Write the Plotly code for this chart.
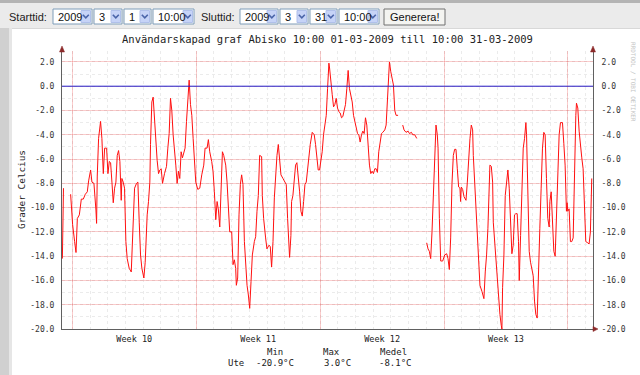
import pandas as pd
import plotly.graph_objects as go

# ---------------- data ----------------
start_time = "2009-03-01 10:00"
end_time = "2009-03-31 10:00"

# hours after start_time, outdoor temperature (°C); None = missing data
hours = [
    0.5, 2.0, 6.0, 11.7, 14.4, 17.1, 19.0, 20.8, 23.5, 26.2, 28.9, 31.6, 34.3, 36.1, 38.8, 40.6,
    43.3, 46.0, 46.9, 47.8, 49.6, 52.3, 54.1, 56.0, 57.8, 60.5, 62.3, 64.1, 65.9, 67.7, 69.5, 71.3,
    73.1, 74.9, 76.7, 78.5, 80.3, 81.2, 83.0, 84.8, 86.6, 88.4, 91.1, 93.9, 95.7, 96.6, 98.4, 101.1,
    102.9, 104.7, 106.5, 108.3, 111.0, 112.8, 115.5, 117.3, 119.1, 120.0, 121.8, 123.6, 125.4, 127.2,
    129.0, 130.9, 132.7, 134.5, 136.3, 139.0, 141.7, 143.5, 145.3, 147.1, 148.9, 150.7, 152.5, 154.3,
    156.1, 157.9, 159.7, 161.5, 163.3, 165.1, 166.9, 168.8, 170.6, 172.4, 174.2, 176.0, 177.8, 179.6,
    181.4, 184.1, 186.8, 189.5, 192.2, 194.0, 196.7, 198.5, 200.3, 203.0, 204.8, 206.6, 208.5, 210.3,
    212.1, 213.9, 215.7, 217.5, 219.3, 222.0, 223.8, 225.6, 227.4, 230.1, 231.9, 233.7, 235.5, 236.4,
    238.2, 240.0, 241.8, 243.6, 245.4, 247.3, 249.1, 250.9, 252.7, 254.5, 256.3, 258.1, 260.8, 262.6,
    264.4, 266.2, 268.0, 270.7, 271.6, 273.4, 276.1, 277.9, 280.6, 282.4, 284.2, 286.1, 287.9, 289.7,
    291.5, 293.3, 295.1, 296.9, 299.6, 302.3, 304.1, 305.9, 307.7, 308.6, 310.4, 311.3, 313.1, 314.9,
    316.7, 318.5, 320.4, 322.2, 324.0, 325.8, 327.6, 329.4, 331.2, 333.0, 334.8, 336.6, 339.3, 342.0,
    343.8, 345.6, 347.4, 349.2, 351.0, 352.8, 354.6, 356.4, 358.3, 360.1, 361.9, 362.8, 364.6, 366.4,
    368.2, 370.0, 371.8, 373.6, 375.4, 377.2, 379.0, 380.8, 382.6, 384.4, 386.2, 388.0, 389.8, 391.6,
    393.5, 395.3, 397.1, 398.9, 400.7, 402.5, 404.3, 406.1, 407.9, 409.7, 411.5, 413.3, 415.1, 416.9,
    418.7, 420.5, 422.3, 424.1, 425.9, 427.7, 429.5, 431.4, 433.2, 435.0, 437.7, 439.5, 441.3, 443.1,
    444.0, 445.8, 447.6, 449.4, 451.2, 453.0, 455.7, 458.5, 462.0, 463.8, 466.5, 469.2, 471.1, 473.8,
    475.6, 478.3, 481.0, 488.0, 494.5, 496.3, 498.1, 499.9, 501.7, 503.5, 505.3, 507.1, 508.9, 509.9,
    511.7, 513.5, 516.2, 518.9, 521.6, 523.4, 525.2, 527.0, 528.8, 530.6, 532.4, 534.2, 536.0, 537.8,
    539.6, 540.5, 541.4, 543.2, 545.1, 547.8, 549.6, 551.4, 553.2, 555.0, 556.8, 557.7, 559.5, 561.3,
    563.1, 564.9, 566.7, 569.4, 572.1, 573.9, 575.7, 577.5, 579.3, 580.2, 582.1, 583.9, 584.8, 586.6,
    588.4, 590.2, 592.0, 593.8, 595.6, 596.5, 597.4, 599.2, 601.0, 602.8, 604.6, 606.4, 608.2, 610.0,
    611.8, 613.6, 615.4, 617.2, 619.0, 620.0, 621.8, 623.6, 625.4, 627.2, 629.0, 629.9, 631.7, 633.5,
    635.3, 637.1, 638.9, 640.7, 642.5, 644.3, 646.1, 647.9, 649.7, 651.5, 653.3, 655.1, 656.9, 658.7,
    660.6, 661.5, 663.3, 665.1, 666.9, 668.7, 670.5, 672.3, 674.1, 675.9, 678.6, 680.4, 682.2, 684.0,
    684.9, 685.8, 687.6, 689.4, 691.2, 693.1, 694.9, 696.7, 697.6, 699.4, 701.2, 703.0, 704.8, 706.6,
    708.4, 710.2, 712.9, 714.7, 716.5, 718.3,
]
temps = [
    -14.2, -8.4, None, -8.9, -11.4, -12.8, -13.7, -10.9, -10.6, -9.3, -9.3, -8.9, -8.7, -7.8, -6.9, -7.9,
    -8.0, -10.2, -11.3, -7.4, -4.3, -2.9, -4.3, -7.2, -5.1, -5.1, -7.2, -6.2, -6.3, -7.9, -9.6, -8.4,
    -7.9, -5.7, -5.3, -6.2, -9.4, -7.6, -7.9, -8.4, -12.8, -14.2, -15.0, -15.3, -12.8, -10.3, -8.4, -8.0,
    -7.9, -11.2, -13.9, -15.0, -15.8, -14.5, -10.6, -9.5, -7.9, -4.8, -1.3, -0.9, -2.9, -4.6,
    -6.1, -7.2, -6.9, -6.8, -8.0, -7.2, -6.6, -5.1, -3.9, -1.0, -2.0, -4.0, -5.1, -6.5,
    -8.0, -7.0, -7.6, -5.4, -5.9, -5.4, -5.1, -2.9, -0.7, 0.5, -1.5, -2.4, -4.3, -6.2,
    -7.9, -8.5, -8.4, -7.3, -6.5, -5.1, -5.1, -4.4, -5.4, -6.2, -7.0, -8.7, -11.0, -9.5,
    -10.2, -11.6, -7.3, -5.4, -5.7, -6.5, -7.9, -9.5, -12.0, -12.0, -14.7, -14.3, -15.0, -16.4,
    -15.8, -10.6, -8.1, -7.3, -8.1, -12.8, -15.0, -16.4, -17.2, -18.3, -16.1, -13.9, -12.8, -12.4,
    -10.3, -9.0, -5.7, -5.8, -9.0, -10.9, -12.5, -13.4, -13.1, -13.2, -14.9, -12.8, -9.2, -7.0,
    -5.7, -4.8, -6.5, -7.3, -7.6, -7.9, -8.1, -10.9, -12.8, -14.1, -12.3, -9.5, -9.0, -7.3,
    -6.5, -6.3, -7.3, -8.7, -10.3, -10.7, -9.5, -8.1, -7.9, -6.8, -5.7, -4.8, -3.8, -4.0,
    -4.8, -5.9, -6.9, -6.9, -6.2, -5.4, -4.0, -3.2, -2.4, -0.2, 1.9, 1.5, 0.1, -0.7,
    -1.7, -1.5, -1.0, -1.8, -2.1, -2.2, -2.6, -2.5, -2.0, -1.5, -0.2, 1.3, -0.2, -0.7,
    -1.3, -2.4, -2.9, -3.5, -3.9, -4.0, -4.6, -4.0, -3.7, -3.9, -2.6, -3.2, -5.1, -6.5,
    -7.2, -7.0, -7.2, -6.8, -6.8, -7.1, -5.4, -4.7, -3.9, -3.8, -3.6, -3.2, -1.5, 0.4,
    2.0, 1.2, 0.7, 0.1, -2.0, -2.4, -2.4, None, -3.2, -3.6, -3.8, -3.7, -3.9, -3.8,
    -4.0, -4.0, -4.3, None, -12.9, -13.4, -13.6, -14.2, -12.0, -9.0, -5.7, -3.2, -4.0, -5.1,
    -10.9, -14.4, -14.4, -13.9, -13.8, -14.2, -15.1, -12.5, -8.0, -5.7, -5.2, -5.2, -6.8, -8.3,
    -8.4, -9.5, -8.3, -8.5, -9.1, -9.4, -7.9, -5.9, -4.3, -3.2, -3.6, -5.7, -7.9, -10.1,
    -12.8, -15.3, -16.4, -16.9, -17.5, -15.3, -13.9, -11.7, -9.0, -6.5, -6.6, -7.9, -11.2, -12.8,
    -14.5, -16.4, -18.0, -18.8, -19.7, -20.0, -16.6, -13.9, -9.0, -7.9, -6.9, -8.4, -11.7, -13.8,
    -13.1, -10.6, -10.5, -10.5, -12.8, -16.0, -12.3, -8.4, -5.1, -4.3, -3.0, -4.0, -10.1, -13.6,
    -14.5, -15.0, -15.6, -17.7, -18.8, -19.1, -16.1, -11.7, -8.4, -5.1, -3.8, -4.0, -7.6, -10.9,
    -11.6, -9.5, -8.7, -11.7, -13.6, -14.0, -10.6, -5.7, -4.0, -3.0, -3.0, -4.7, -6.5, -10.3,
    -9.6, -10.3, -10.1, -12.8, -12.8, -12.5, -6.5, -2.4, -1.4, -1.8, -3.7, -5.1, -5.9, -6.8,
    -10.1, -12.8, -12.9, -13.0, -12.0, -7.6,
]

week_starts = ["2009-03-02", "2009-03-09", "2009-03-16", "2009-03-23", "2009-03-30"]
week_mids = ["2009-03-05 12:00", "2009-03-12 12:00", "2009-03-19 12:00", "2009-03-26 12:00"]
week_labels = ["Week 10", "Week 11", "Week 12", "Week 13"]

y_ticks = [2.0, 0.0, -2.0, -4.0, -6.0, -8.0, -10.0, -12.0, -14.0, -16.0, -18.0, -20.0]
y_range = [-20.0, 2.9]
zero_line = 0.0

series_name = "Ute"
stat_names = ["Min", "Max", "Medel"]
stat_values = [-20.9, 3.0, -8.1]

chart_title = "Användarskapad graf Abisko 10:00 01-03-2009 till 10:00 31-03-2009"
y_title = "Grader Celcius"
watermark = "RRDTOOL / TOBI OETIKER"

start_label = "Starttid:"
end_label = "Sluttid:"
start_fields = ["2009", "3", "1", "10:00"]
end_fields = ["2009", "3", "31", "10:00"]
button_text = "Generera!"

# ---------------- layout geometry (pixels) ----------------
W, H = 640, 375
L, T, PW, PH = 62, 51, 531, 278
R = W - L - PW
B = H - T - PH


def px(x):
    return (x - L) / PW


def py(y):
    return (T + PH - y) / PH


MONO = "DejaVu Sans Mono"
SANS = "Liberation Sans, Arial, sans-serif"
PINK = "rgba(235,0,0,0.2)"
DOT = "#ebebeb"
AXIS = "#606060"

t0 = pd.Timestamp(start_time)
times = [t0 + pd.Timedelta(hours=h) for h in hours]

fig = go.Figure()
fig.add_trace(go.Scatter(
    x=times, y=temps, mode="lines", connectgaps=False,
    line=dict(color="#ff1010", width=1), hoverinfo="skip", showlegend=False))
# zero rule (HRULE) drawn on overlay x axis which carries the week labels
fig.add_trace(go.Scatter(
    x=[start_time, end_time], y=[zero_line, zero_line], mode="lines",
    line=dict(color="#2525d0", width=1), xaxis="x2", yaxis="y",
    hoverinfo="skip", showlegend=False))
# right-hand axis carrier
fig.add_trace(go.Scatter(
    x=[start_time, end_time], y=[zero_line, zero_line], mode="lines",
    opacity=0, xaxis="x", yaxis="y2", hoverinfo="skip", showlegend=False))

ytext = [f"{v:.1f}" for v in y_ticks]

fig.update_layout(
    width=W, height=H, margin=dict(l=L, r=R, t=T, b=B, pad=0),
    paper_bgcolor="white", plot_bgcolor="white", showlegend=False,
    xaxis=dict(
        type="date", range=[start_time, end_time],
        tickmode="array", tickvals=week_starts, ticktext=[""] * len(week_starts),
        showticklabels=False, ticks="",
        showgrid=True, gridcolor=PINK, gridwidth=1,
        minor=dict(dtick=86400000, tick0="2009-03-02", showgrid=True,
                   gridcolor=DOT, griddash="dot", ticks=""),
        showline=True, linecolor=AXIS, linewidth=1, zeroline=False,
    ),
    xaxis2=dict(
        type="date", overlaying="x", matches="x", side="bottom", anchor="y",
        tickmode="array", tickvals=week_mids, ticktext=week_labels,
        ticks="", showgrid=False, showline=False, zeroline=False,
        tickfont=dict(family=MONO, size=8.5, color="#222"),
        ticklabelstandoff=3,
    ),
    yaxis=dict(
        range=y_range, tickmode="array", tickvals=y_ticks, ticktext=ytext,
        ticks="", showgrid=True, gridcolor=PINK, gridwidth=1,
        minor=dict(dtick=1, tick0=0, showgrid=True, gridcolor=DOT,
                   griddash="dot", ticks=""),
        showline=True, linecolor=AXIS, linewidth=1, zeroline=False,
        tickfont=dict(family=MONO, size=8, color="#333"),
        ticklabelstandoff=5,
    ),
    yaxis2=dict(
        range=y_range, overlaying="y", side="right", anchor="x",
        tickmode="array", tickvals=y_ticks, ticktext=ytext,
        ticks="", showgrid=False, showline=True, linecolor=AXIS,
        linewidth=1, zeroline=False,
        tickfont=dict(family=MONO, size=8, color="#333"),
        ticklabelstandoff=6,
    ),
)

shapes = []
ann = []


def rect(x0, y0, x1, y1, fill, line=None, lw=0):
    shapes.append(dict(type="rect", xref="paper", yref="paper",
                       x0=px(x0), x1=px(x1), y0=py(y1), y1=py(y0),
                       fillcolor=fill, line=dict(color=line or fill, width=lw),
                       layer="above"))


def poly(pts, fill=None, line=None, lw=1):
    path = "M " + " L ".join(f"{px(a)},{py(b)}" for a, b in pts)
    if fill:
        path += " Z"
    shapes.append(dict(type="path", xref="paper", yref="paper", path=path,
                       fillcolor=fill or "rgba(0,0,0,0)",
                       line=dict(color=line or fill, width=lw), layer="above"))


def text(x, y, s, size, family=MONO, color="#222", xanchor="left", angle=0):
    ann.append(dict(xref="paper", yref="paper", x=px(x), y=py(y), text=s,
                    showarrow=False, xanchor=xanchor, yanchor="middle",
                    textangle=angle,
                    font=dict(family=family, size=size, color=color)))


# page chrome: top form bar and left border
rect(0, 0, W, 28, "#ebebeb")
rect(0, 0, W, 3, "#b4b4b4")
rect(0, 28, 9, H, "#d0d0d0")
rect(9, 28, 12, H, "#e6e6e6")
rect(12, 28, W, 29, "#d8d8d8")

# form controls
text(7, 17, start_label, 11, SANS, "#222")
text(199, 17, end_label, 11, SANS, "#222")
start_boxes = [(53, 92), (94, 122), (124, 151), (153, 194)]
end_boxes = [(240, 278), (280, 308), (310, 337), (339, 379)]
for boxes, vals in ((start_boxes, start_fields), (end_boxes, end_fields)):
    for (bx0, bx1), v in zip(boxes, vals):
        rect(bx0, 9, bx1, 24, "white", "#7f9db9", 1)
        rect(bx1 - 11, 10.5, bx1 - 1.5, 22.5, "#c6d3f7", "#b0c0ea", 1)
        cx = bx1 - 6.2
        poly([(cx - 3, 14.8), (cx, 17.8), (cx + 3, 14.8)], None, "#4a64a8", 1.6)
        text(bx0 + 2.5, 16.8, v, 11, SANS, "#111")
rect(384, 9, 445, 25, "#f4f4f1", "#707070", 1)
text(414.5, 17, button_text, 11, SANS, "#111", xanchor="center")

# titles and labels
text(327.5, 39, chart_title, 10.5, MONO, "#222", xanchor="center")
text(21, 190, y_title, 9.4, MONO, "#222", xanchor="center", angle=-90)
text(634, 82, watermark, 6, MONO, "#c4c4c4", xanchor="center", angle=90)

# axis arrows
ARROW = "#8c2a2a"
poly([(L, 46), (L - 2.5, 52), (L + 2.5, 52)], ARROW, ARROW, 0.5)
poly([(L + PW, 46), (L + PW - 2.5, 52), (L + PW + 2.5, 52)], ARROW, ARROW, 0.5)
poly([(L + PW + 5, T + PH), (L + PW, T + PH - 2.5), (L + PW, T + PH + 2.5)], ARROW, ARROW, 0.5)

# legend (GPRINT style)
text(226, 363, series_name, 9, MONO, "#222")
head_x = [265, 321, 378]
val_x = [254, 322, 377]
for hx, vx, name, val in zip(head_x, val_x, stat_names, stat_values):
    text(hx, 352, name, 9, MONO, "#222")
    text(vx, 363, f"{val:.1f}°C", 9, MONO, "#222")

fig.update_layout(shapes=shapes, annotations=ann)
fig.write_html("out.html", config={"displayModeBar": False},
               post_script="document.body.style.margin='0';")
